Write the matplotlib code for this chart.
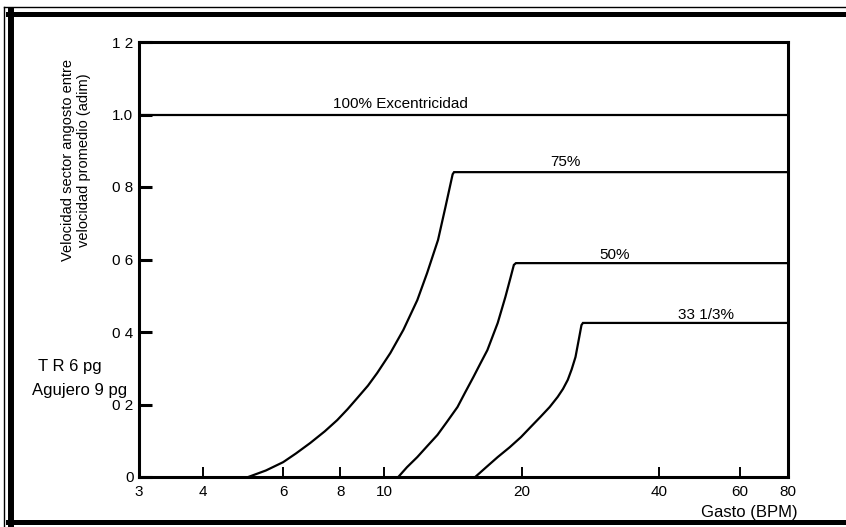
from matplotlib.lines import Line2D
import matplotlib.pyplot as plt

plt.rcParams["font.family"] = ["Liberation Sans", "DejaVu Sans"]

# curve data (gasto, velocidad relativa)
gasto_100 = [2.9, 76.5]
vel_100 = [1.0, 1.0]

gasto_75 = [5.03, 5.5, 6.0, 6.4, 6.88, 7.4, 7.88, 8.3, 8.72, 9.2, 9.64, 10.3, 11.0, 11.8, 12.4, 13.1, 13.6, 14.1, 14.2, 76.5]
vel_75 = [0.0, 0.018, 0.041, 0.065, 0.094, 0.126, 0.157, 0.187, 0.218, 0.252, 0.287, 0.342, 0.406, 0.488, 0.563, 0.654, 0.745, 0.835, 0.841, 0.841]

gasto_50 = [10.72, 11.2, 11.8, 12.4, 13.06, 13.7, 14.45, 15.0, 15.66, 16.2, 16.8, 17.7, 18.4, 18.9, 19.2, 19.4, 76.5]
vel_50 = [0.0, 0.027, 0.055, 0.085, 0.116, 0.152, 0.193, 0.232, 0.276, 0.312, 0.350, 0.425, 0.497, 0.552, 0.585, 0.590, 0.590]

gasto_33 = [15.8, 16.7, 17.7, 18.8, 19.9, 20.9, 21.96, 23.0, 23.95, 24.6, 25.2, 25.7, 26.2, 26.7, 27.0, 27.2, 76.5]
vel_33 = [0.0, 0.027, 0.055, 0.082, 0.110, 0.138, 0.166, 0.193, 0.221, 0.243, 0.268, 0.297, 0.331, 0.386, 0.419, 0.425, 0.425]

x_ticks = [2.9, 4, 6, 8, 10, 20, 40, 60, 76.5]
x_labels = ["3", "4", "6", "8", "10", "20", "40", "60", "80"]
y_ticks = [0.0, 0.2, 0.4, 0.6, 0.8, 1.0, 1.2]
y_labels = ["0", "0 2", "0 4", "0 6", "0 8", "1.0", "1 2"]


def main() -> None:
    W, H = 846, 527
    fig = plt.figure(figsize=(W / 100, H / 100), dpi=100)
    ax = fig.add_axes([139 / W, 1 - 477 / H, (788 - 139) / W, (477 - 42) / H])

    lw = 1.6
    for gx, vy in [(gasto_100, vel_100), (gasto_75, vel_75), (gasto_50, vel_50), (gasto_33, vel_33)]:
        ax.plot(gx, vy, color="black", linewidth=lw, solid_joinstyle="miter")

    ax.set_xscale("log")
    ax.set_xlim(2.9, 76.5)
    ax.set_ylim(0, 1.2)
    ax.set_xticks(x_ticks)
    ax.set_xticklabels(x_labels)
    ax.minorticks_off()
    ax.set_yticks(y_ticks)
    ax.set_yticklabels(y_labels)
    ax.tick_params(axis="x", direction="in", length=7, width=1.4, pad=6, labelsize=11)
    ax.tick_params(axis="y", direction="in", length=9, width=2.2, pad=4, labelsize=11)
    for sp in ax.spines.values():
        sp.set_linewidth(2.2)

    ax.text(10.83, 1.03, "100% Excentricidad", ha="center", va="center", fontsize=11)
    ax.text(24.9, 0.869, "75%", ha="center", va="center", fontsize=11)
    ax.text(31.9, 0.612, "50%", ha="center", va="center", fontsize=11)
    ax.text(50.6, 0.447, "33 1/3%", ha="center", va="center", fontsize=11)

    fig.text(798 / W, 1 - 512 / H, "Gasto (BPM)", ha="right", va="center", fontsize=12)
    fig.text(76 / W, 1 - 160 / H, "Velocidad sector angosto entre\nvelocidad promedio (adim)",
             rotation=90, ha="center", va="center", fontsize=10.5, linespacing=1.1,
             multialignment="center")
    fig.text(70 / W, 1 - 366 / H, "T R 6 pg", ha="center", va="center", fontsize=12)
    fig.text(80 / W, 1 - 390 / H, "Agujero 9 pg", ha="center", va="center", fontsize=12)

    # scanned page frame
    def frame(xs, ys, width):
        fig.add_artist(Line2D([x / W for x in xs], [1 - y / H for y in ys],
                              color="black", linewidth=width, transform=fig.transFigure))

    frame([4, 4], [6.5, 527], 1.0)
    frame([4, 846], [6.5, 6.5], 1.0)
    frame([11, 11], [11, 524], 4.3)
    frame([8, 846], [13.5, 13.5], 3.6)
    frame([8, 846], [521.5, 521.5], 3.6)

    fig.savefig("out.png", dpi=100)
    plt.close(fig)


if __name__ == "__main__":
    main()
